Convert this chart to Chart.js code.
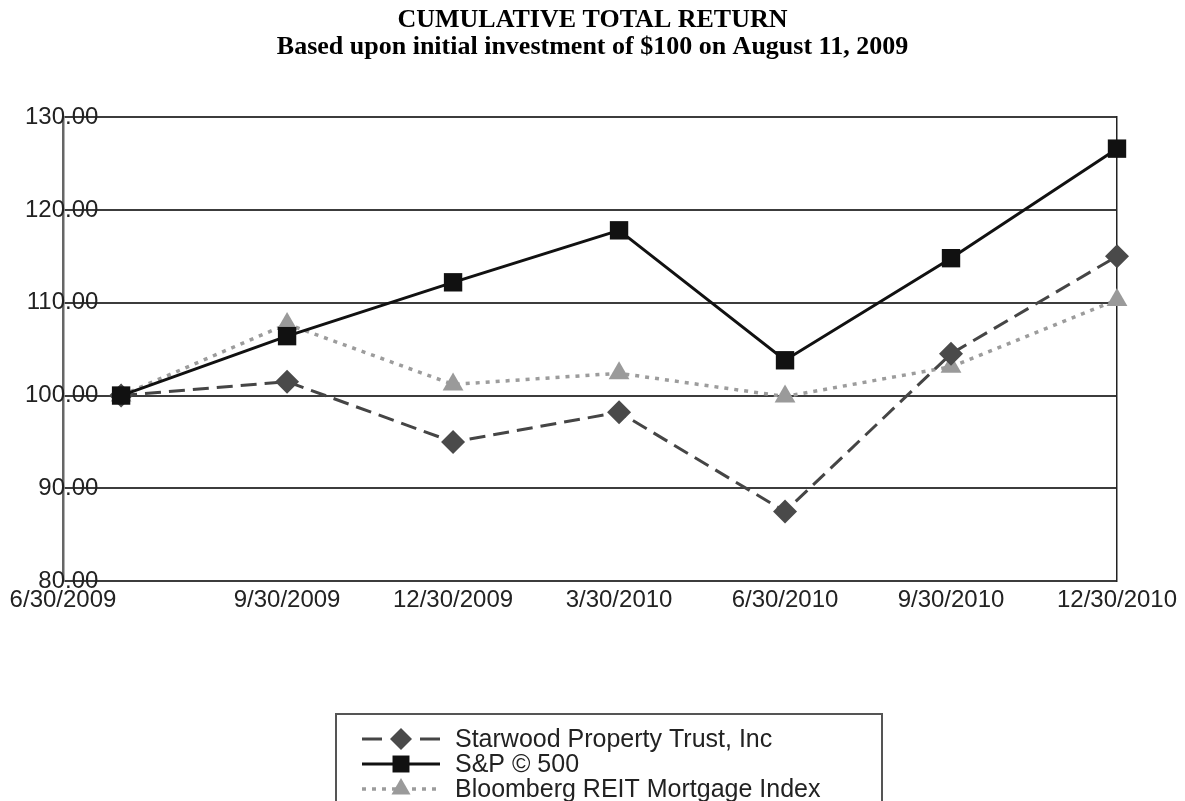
<!DOCTYPE html>
<html lang="en">
<head>
  <meta charset="UTF-8" />
  <title>Cumulative Total Return</title>
  <style>
    body { margin: 0; padding: 0; background: #fff; }
    #wrap { width: 1185px; height: 801px; }
  </style>
</head>
<body>
  <div id="wrap"><canvas id="grafico" width="1185" height="801"></canvas></div>

  <script src="https://cdn.jsdelivr.net/npm/chart.js"></script>
  <script>
    // x labels: the first one sits on the y axis, the rest on the quarter points
    const xLabels = ['6/30/2009', '9/30/2009', '12/30/2009', '3/30/2010', '6/30/2010', '9/30/2010', '12/30/2010'];
    const yTicks = [80, 90, 100, 110, 120, 130];

    const starwood = [100, 101.5, 95.0, 98.2, 87.5, 104.5, 115.0];
    const sp500 = [100, 106.4, 112.2, 117.8, 103.8, 114.8, 126.6];
    const bloomberg = [100, 107.7, 101.2, 102.4, 99.9, 103.1, 110.3];

    const seriesNames = ['Starwood Property Trust, Inc', 'S&P \u00A9 500', 'Bloomberg REIT Mortgage Index'];

    const xMin = -0.35;
    const fonte = 'Liberation Sans, Arial, sans-serif';

    function pontos(valores) {
      return valores.map((v, i) => ({ x: i, y: v }));
    }

    function desenhaMarcador(ctx, estilo, x, y, r, cor) {
      ctx.save();
      ctx.fillStyle = cor;
      ctx.setLineDash([]);
      ctx.beginPath();
      if (estilo === 'rectRot') {
        ctx.moveTo(x, y - r); ctx.lineTo(x + r, y); ctx.lineTo(x, y + r); ctx.lineTo(x - r, y);
      } else if (estilo === 'rect') {
        const s = r * Math.SQRT1_2;
        ctx.rect(x - s, y - s, 2 * s, 2 * s);
      } else {
        ctx.moveTo(x, y - r);
        ctx.lineTo(x + r * Math.sin(Math.PI / 3), y + r * 0.5);
        ctx.lineTo(x - r * Math.sin(Math.PI / 3), y + r * 0.5);
      }
      ctx.closePath();
      ctx.fill();
      ctx.restore();
    }

    // legend in a box, line sample + marker, like the original
    const legendaCaixa = {
      id: 'legendaCaixa',
      afterDraw(chart) {
        const ctx = chart.ctx;
        ctx.save();
        ctx.strokeStyle = '#555';
        ctx.lineWidth = 2;
        ctx.strokeRect(336, 714, 546, 110);
        chart.data.datasets.forEach((ds, i) => {
          const y = 739 + i * 25;
          ctx.strokeStyle = ds.borderColor;
          ctx.lineWidth = ds.borderWidth;
          ctx.setLineDash(ds.legendDash || []);
          ctx.beginPath();
          ctx.moveTo(362, y);
          ctx.lineTo(440, y);
          ctx.stroke();
          desenhaMarcador(ctx, ds.pointStyle, 401, y, ds.pointRadius - 1, ds.pointBackgroundColor);
          ctx.fillStyle = '#222';
          ctx.font = '25px ' + fonte;
          ctx.textBaseline = 'middle';
          ctx.textAlign = 'left';
          ctx.fillText(ds.label, 455, y + 1);
        });
        ctx.restore();
      }
    };

    new Chart(document.getElementById('grafico'), {
      type: 'line',
      data: {
        datasets: [
          {
            label: seriesNames[0],
            data: pontos(starwood),
            borderColor: '#454545',
            borderWidth: 3,
            borderDash: [16, 8],
            legendDash: [20, 38],
            pointStyle: 'rectRot',
            pointRadius: 12,
            pointBackgroundColor: '#4a4a4a',
            pointBorderWidth: 0,
            order: 1,
            clip: false
          },
          {
            label: seriesNames[1],
            data: pontos(sp500),
            borderColor: '#111',
            borderWidth: 3,
            pointStyle: 'rect',
            pointRadius: 13,
            pointBackgroundColor: '#111',
            pointBorderWidth: 0,
            order: 0,
            clip: false
          },
          {
            label: seriesNames[2],
            data: pontos(bloomberg),
            borderColor: '#9c9c9c',
            borderWidth: 3.5,
            borderDash: [4, 6],
            legendDash: [4, 6],
            pointStyle: 'triangle',
            pointRadius: 12,
            pointBackgroundColor: '#9a9a9a',
            pointBorderWidth: 0,
            order: 2,
            clip: false
          }
        ]
      },
      options: {
        responsive: false,
        animation: false,
        tension: 0,
        layout: { padding: { left: 0, right: 0, bottom: 181, top: 0 } },
        plugins: {
          legend: { display: false },
          tooltip: { enabled: false },
          title: {
            display: true,
            text: ['CUMULATIVE TOTAL RETURN', 'Based upon initial investment of $100 on August 11, 2009'],
            color: '#000',
            font: { family: 'Liberation Serif, Times New Roman, serif', size: 26, weight: 'bold', lineHeight: 1.04 },
            padding: { top: 7, bottom: 56 }
          }
        },
        scales: {
          x: {
            type: 'linear',
            min: xMin,
            max: xLabels.length - 1,
            afterBuildTicks: s => { s.ticks = [xMin, 1, 2, 3, 4, 5, 6].map(v => ({ value: v })); },
            ticks: {
              autoSkip: false,
              maxRotation: 0,
              padding: 5,
              color: '#222',
              font: { family: fonte, size: 24 },
              callback: (v, i) => xLabels[i]
            },
            grid: { display: false, drawTicks: false },
            border: { display: false }
          },
          y: {
            min: yTicks[0],
            max: yTicks[yTicks.length - 1],
            afterBuildTicks: s => { s.ticks = yTicks.map(v => ({ value: v })); },
            afterFit: s => { s.width = 63; },
            ticks: {
              mirror: true,
              crossAlign: 'far',
              padding: -38,
              color: '#222',
              font: { family: fonte, size: 24 },
              callback: v => Number(v).toFixed(2)
            },
            grid: { color: '#3c3c3c', lineWidth: 2, drawTicks: false },
            border: { display: true, color: '#666', width: 2.5 }
          },
          y2: {
            position: 'right',
            min: yTicks[0],
            max: yTicks[yTicks.length - 1],
            afterFit: s => { s.width = 68; },
            ticks: { display: false },
            grid: { display: false, drawTicks: false },
            border: { display: true, color: '#222', width: 1.5 }
          }
        }
      },
      plugins: [legendaCaixa]
    });
  </script>
</body>
</html>
